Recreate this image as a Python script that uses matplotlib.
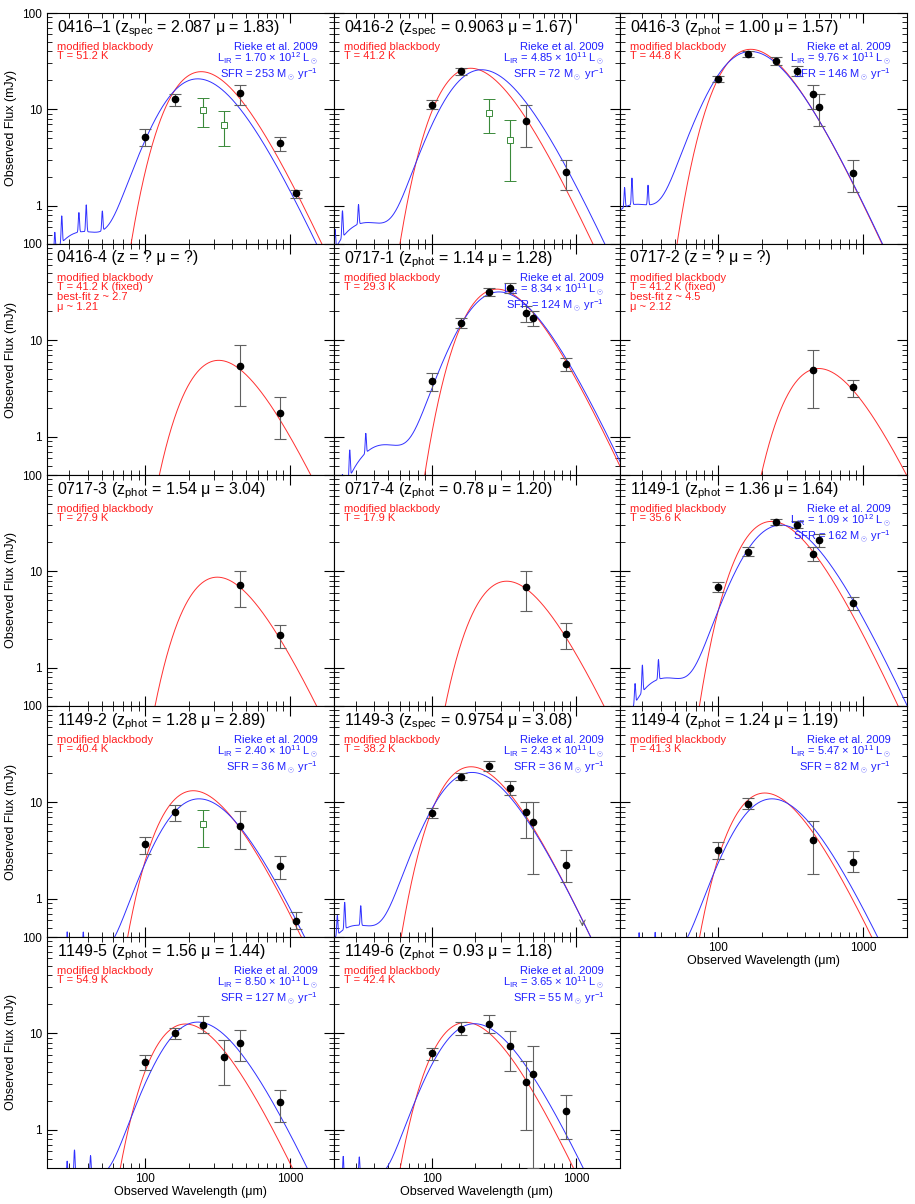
import numpy as np
import matplotlib
matplotlib.use("Agg")
import matplotlib.pyplot as plt
from matplotlib.ticker import LogLocator, NullFormatter, FixedLocator, FixedFormatter

plt.rcParams["font.family"] = "Liberation Sans"
plt.rcParams["mathtext.fontset"] = "custom"
plt.rcParams["mathtext.rm"] = "Liberation Sans"
plt.rcParams["mathtext.it"] = "Liberation Sans"

# ---------------- data ----------------
names = ["0416\u20131", "0416-2", "0416-3", "0416-4", "0717-1", "0717-2", "0717-3",
         "0717-4", "1149-1", "1149-2", "1149-3", "1149-4", "1149-5", "1149-6"]
zkind = ["spec", "spec", "phot", None, "phot", None, "phot", "phot", "phot", "phot",
         "spec", "phot", "phot", "phot"]
zval = ["2.087", "0.9063", "1.00", "?", "1.14", "?", "1.54", "0.78", "1.36", "1.28",
        "0.9754", "1.24", "1.56", "0.93"]
muval = ["1.83", "1.67", "1.57", "?", "1.28", "?", "3.04", "1.20", "1.64", "2.89",
         "3.08", "1.19", "1.44", "1.18"]
zfit = [2.087, 0.9063, 1.00, 2.7, 1.14, 4.5, 1.54, 0.78, 1.36, 1.28, 0.9754, 1.24, 1.56, 0.93]
red_text = [["T = 51.2 K"], ["T = 41.2 K"], ["T = 44.8 K"],
            ["T = 41.2 K (fixed)", "best-fit z ~ 2.7", "\u03bc ~ 1.21"],
            ["T = 29.3 K"],
            ["T = 41.2 K (fixed)", "best-fit z ~ 4.5", "\u03bc ~ 2.12"],
            ["T = 27.9 K"], ["T = 17.9 K"], ["T = 35.6 K"], ["T = 40.4 K"],
            ["T = 38.2 K"], ["T = 41.3 K"], ["T = 54.9 K"], ["T = 42.4 K"]]
lir_mant = ["1.70", "4.85", "9.76", None, "8.34", None, None, None, "1.09", "2.40",
            "2.43", "5.47", "8.50", "3.65"]
lir_exp = ["12", "11", "11", None, "11", None, None, None, "12", "11", "11", "11", "11", "11"]
sfr = ["253", "72", "146", None, "124", None, None, None, "162", "36", "36", "82", "127", "55"]

# red modified blackbody: observed peak wavelength (um) and peak flux (mJy)
red_pk_lam = [244, 186, 168, 322, 283, 495, 315, 330, 234, 215, 187, 210, 190, 172]
red_pk_flux = [24.6, 26.7, 42, 6.2, 34, 5.1, 8.7, 7.9, 33, 13.2, 23.4, 12.5, 12.5, 13]
# blue Rieke template: observed peak wavelength and flux
blue_pk_lam = [245, 235, 178, None, 310, None, None, None, 288, 250, 202, 250, 245, 210]
blue_pk_flux = [20.6, 25.6, 39.6, None, 31.6, None, None, None, 30, 10.8, 20.3, 10.8, 13, 12.5]

# photometry: wavelength, flux, lower, upper
pts_lam = [[100, 160, 450, 850, 1100], [100, 160, 450, 850], [100, 160, 250, 350, 450, 500, 850],
           [450, 850], [100, 160, 250, 350, 450, 500, 850], [450, 850], [450, 850], [450, 850],
           [100, 160, 250, 350, 450, 500, 850], [100, 160, 450, 850, 1100],
           [100, 160, 250, 350, 450, 500, 850], [100, 160, 450, 850],
           [100, 160, 250, 350, 450, 850], [100, 160, 250, 350, 450, 500, 850]]
pts_f = [[5.2, 12.7, 14.8, 4.5, 1.34], [11.2, 24.8, 7.6, 2.25], [20.5, 37.3, 32, 24.8, 14.3, 10.6, 2.2],
         [5.45, 1.77], [3.8, 15.3, 31.4, 34.8, 19, 17, 5.66], [4.9, 3.27], [7.2, 2.2], [6.8, 2.25],
         [6.9, 16, 32.6, 30, 15.2, 21, 4.7], [3.7, 7.9, 5.7, 2.2, 0.59],
         [7.7, 18.5, 23.8, 14.2, 7.9, 6.2, 2.26], [3.2, 9.6, 4.1, 2.4],
         [5.0, 10, 12.3, 5.7, 8.0, 1.93], [6.2, 11.2, 12.5, 7.4, 3.1, 3.8, 1.55]]
pts_lo = [[4.2, 10.8, 11.2, 3.7, 1.2], [10.2, 22.5, 4.1, 1.45], [19, 35, 29, 22, 10.2, 6.7, 1.4],
          [2.1, 0.95], [3.0, 13.3, 29, 31, 15.5, 14, 4.8], [2.0, 2.6], [4.3, 1.6], [3.9, 1.55],
          [6.1, 14.6, 30, 28, 12.8, 18, 4.0], [2.9, 6.4, 3.3, 1.6, 0.48],
          [6.9, 17, 21, 12, 4.3, 1.8, 1.5], [2.6, 8.5, 1.8, 1.9],
          [4.2, 8.7, 10, 2.9, 5.2, 1.2], [5.3, 9.5, 10, 4.1, 1.0, 0.4, 0.8]]
pts_hi = [[6.2, 14.6, 18, 5.2, 1.45], [12.4, 27, 11.1, 3.0], [22, 40, 35, 28, 18, 14.3, 3.0],
          [8.9, 2.6], [4.6, 17, 35, 39, 22.5, 20, 6.5], [7.9, 3.9], [10.1, 2.8], [10, 2.9],
          [7.8, 17.7, 35, 33.5, 18, 24.5, 5.4], [4.4, 9.3, 8.1, 2.8, 0.72],
          [8.7, 20, 27, 16.5, 10, 10, 3.2], [3.9, 11, 6.4, 3.1],
          [5.9, 11.3, 15, 8.6, 10.8, 2.6], [7.1, 13, 15.5, 10.6, 5.2, 7.3, 2.3]]
# open green points (e.g. 250/350 um)
g_panel = [0, 0, 1, 1, 9]
g_lam = [250, 350, 250, 350, 250]
g_f = [9.8, 6.9, 9.2, 4.8, 5.9]
g_lo = [6.6, 4.2, 5.7, 1.8, 3.4]
g_hi = [13, 9.6, 12.7, 7.8, 8.3]
# upper limit
ul_panel = [10]
ul_lam = [1100]
ul_f = [0.48]

# ---------------- models ----------------
def xpk(beta):
    x = 4.0
    for _ in range(100):
        x = (3 + beta) * (1 - np.exp(-x))
    return x

def mbb(lam, lam_pk, beta=1.5):
    xp = xpk(beta)
    x = np.clip(xp * lam_pk / lam, 1e-6, 600)
    return (x ** (3 + beta) / np.expm1(x)) / (xp ** (3 + beta) / np.expm1(xp))

lam = np.logspace(np.log10(18), np.log10(2200), 1500)
pah_rest = [6.2, 7.7, 8.6, 11.3, 12.7, 16.4]

def template(lam, lam_pk, z):
    s = mbb(lam, lam_pk) + 0.25 * mbb(lam, 0.6 * lam_pk) + 0.03 * mbb(lam, 0.15 * lam_pk)
    rest = lam / (1 + z)
    for i, l0 in enumerate(pah_rest):
        s = s * (1 + (0.9 if i % 2 == 0 else 0.6) * np.exp(-((rest - l0) / (0.012 * l0)) ** 2))
    return s

# ---------------- layout ----------------
W, H = 915, 1204
fig = plt.figure(figsize=(W / 100, H / 100), dpi=100)
col_left = [47, 333.5, 620]
aw = 286.5
row_top = [13, 244, 475, 706, 937]
ah = 231

for i in range(14):
    r, c = divmod(i, 3)
    ax = fig.add_axes([col_left[c] / W, 1 - (row_top[r] + ah) / H, aw / W, ah / H])
    ax.set_xscale("log")
    ax.set_yscale("log")
    ax.set_xlim(21, 2000)
    ax.set_ylim(0.4, 100)

    red = mbb(lam, red_pk_lam[i]) * red_pk_flux[i]
    ax.plot(lam, red, color="#ff3030", lw=0.7, zorder=2)
    if blue_pk_lam[i] is not None:
        b = template(lam, blue_pk_lam[i], zfit[i])
        b = b / b[np.abs(lam - blue_pk_lam[i]).argmin()] * blue_pk_flux[i]
        ax.plot(lam, b, color="#3030ff", lw=0.7, zorder=2)

    l = np.array(pts_lam[i]); f = np.array(pts_f[i])
    lo = np.array(pts_lo[i]); hi = np.array(pts_hi[i])
    ax.errorbar(l, f, yerr=[f - lo, hi - f], fmt="none", ecolor="#606060", elinewidth=0.8,
                capsize=4, capthick=0.8, zorder=3)
    ax.plot(l, f, "o", color="black", ms=4.5, zorder=4)
    for k, p in enumerate(g_panel):
        if p == i:
            ax.errorbar([g_lam[k]], [g_f[k]], yerr=[[g_f[k] - g_lo[k]], [g_hi[k] - g_f[k]]],
                        fmt="s", mfc="white", mec="#3a8a3a", ms=4, mew=0.7, ecolor="#3a8a3a",
                        elinewidth=0.8, capsize=4, capthick=0.8, zorder=3)
    for k, p in enumerate(ul_panel):
        if p == i:
            ax.annotate("", xy=(ul_lam[k], ul_f[k]), xytext=(ul_lam[k], ul_f[k] * 1.25),
                        arrowprops=dict(arrowstyle="->", color="#606060", lw=0.7))

    # title
    if zkind[i] is None:
        title = f"{names[i]} (z = {zval[i]} \u03bc = {muval[i]})"
    else:
        title = f"{names[i]} (z$_{{\\mathrm{{{zkind[i]}}}}}$ = {zval[i]} \u03bc = {muval[i]})"
    ax.text(0.035, 0.975, title, transform=ax.transAxes, fontsize=11.5, va="top", ha="left")
    ax.text(0.035, 0.875, "\n".join(["modified blackbody"] + red_text[i]), transform=ax.transAxes,
            fontsize=8, va="top", ha="left", color="#ff2020", linespacing=0.95)
    if lir_mant[i] is not None:
        btxt = ("Rieke et al. 2009\n"
                f"L$_{{\\mathrm{{IR}}}}$ = {lir_mant[i]} \u00d7 10$^{{{lir_exp[i]}}}$ L$_\\odot$\n"
                f"SFR = {sfr[i]} M$_\\odot$ yr$^{{-1}}$")
        ax.text(0.945, 0.875, btxt, transform=ax.transAxes, fontsize=8, va="top", ha="right",
                color="#2020ff", linespacing=0.95)

    ax.tick_params(which="both", direction="in", top=True, right=True, labelsize=8.5)
    ax.tick_params(which="major", length=7)
    ax.tick_params(which="minor", length=3.5)
    ax.yaxis.set_major_locator(FixedLocator([1, 10, 100]))
    ax.yaxis.set_major_formatter(FixedFormatter(["1", "10", "100"]))
    ax.yaxis.set_minor_locator(LogLocator(base=10, subs=np.arange(2, 10)))
    ax.yaxis.set_minor_formatter(NullFormatter())
    ax.xaxis.set_major_locator(FixedLocator([100, 1000]))
    ax.xaxis.set_minor_locator(LogLocator(base=10, subs=np.arange(2, 10)))
    ax.xaxis.set_minor_formatter(NullFormatter())
    if c == 0:
        ax.set_ylabel("Observed Flux (mJy)", fontsize=9)
    else:
        ax.set_yticklabels([])
    if i in (11, 12, 13):
        ax.xaxis.set_major_formatter(FixedFormatter(["100", "1000"]))
        ax.set_xlabel("Observed Wavelength (\u03bcm)", fontsize=9, labelpad=1)
    else:
        ax.set_xticklabels([])
    for sp in ax.spines.values():
        sp.set_linewidth(0.8)

fig.savefig("out.png", dpi=100)
